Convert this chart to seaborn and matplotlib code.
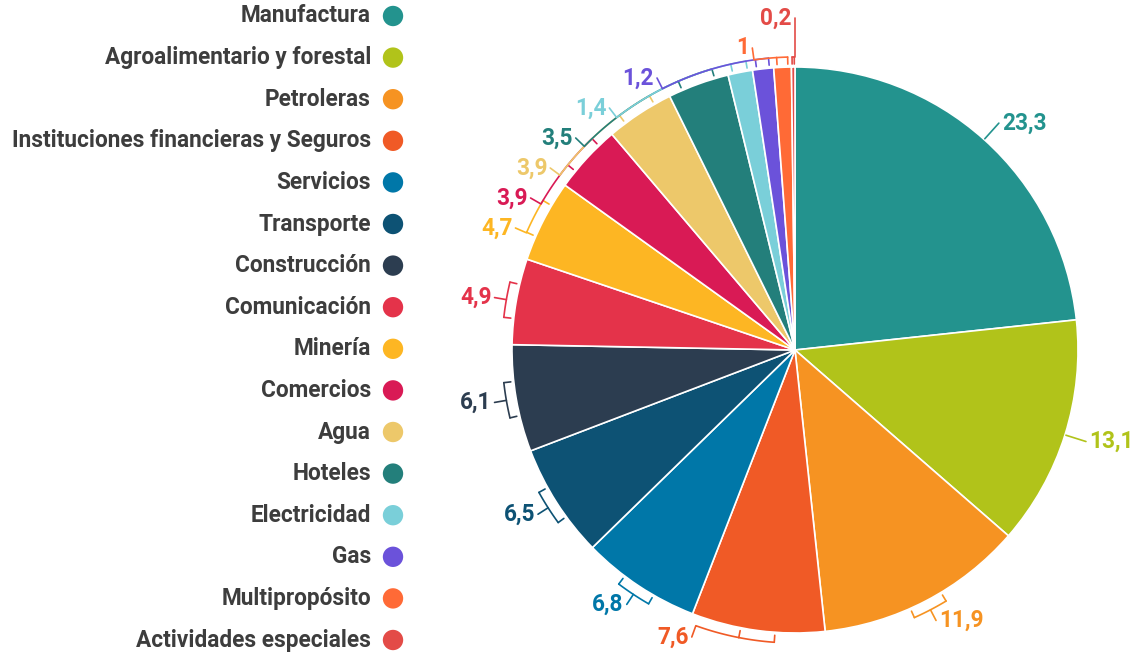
import numpy as np
import pandas as pd
import seaborn as sns
import matplotlib.pyplot as plt

SECTORES = ['Manufactura', 'Agroalimentario y forestal', 'Petroleras',
            'Instituciones financieras y Seguros', 'Servicios', 'Transporte',
            'Construcción', 'Comunicación', 'Minería', 'Comercios', 'Agua',
            'Hoteles', 'Electricidad', 'Gas', 'Multipropósito',
            'Actividades especiales']
PORCENTAJES = [23.3, 13.1, 11.9, 7.6, 6.8, 6.5, 6.1, 4.9, 4.7, 3.9, 3.9,
               3.5, 1.4, 1.2, 1.0, 0.2]
COLORES = ['#23938e', '#b1c31a', '#f69322', '#f05a26', '#0077a8', '#0d5274',
           '#2c3d50', '#e4334a', '#fdb623', '#d91a55', '#edc86a', '#237f7b',
           '#7acfd9', '#6b52da', '#ff6a36', '#e34b47']

sns.set_theme(style="white")
plt.rcParams['font.family'] = ['Roboto', 'DejaVu Sans']

W, H = 1138, 656
CX, CY, R = 795, 306, 283      # centro y radio de la torta (en px)
RB = R + 10                    # radio de los corchetes
RL = R + 22                    # radio de las etiquetas
GAP = 30                       # separación vertical mínima entre etiquetas
TXT = '#3d3d3d'
FS = 16.3

fig = plt.figure(figsize=(W / 100, H / 100), dpi=100)
ax = fig.add_axes([0, 0, 1, 1])

ax.pie(PORCENTAJES, colors=COLORES, startangle=90, counterclock=False,
       radius=R, center=(CX, CY),
       wedgeprops=dict(edgecolor='white', linewidth=1.2))

# ── leyenda a la izquierda ──
df_ley = pd.DataFrame({'x': 393.0,
                       'y': np.linspace(H - 16, H - 640, len(SECTORES)),
                       'sector': SECTORES})
sns.scatterplot(data=df_ley, x='x', y='y', hue='sector', palette=COLORES,
                s=215, linewidth=0, legend=False, ax=ax)
for _, fila in df_ley.iterrows():
    ax.text(fila['x'] - 22, fila['y'], fila['sector'], ha='right', va='center',
            fontsize=FS, fontweight='bold', color=TXT)

# ── ángulos de cada porción ──
acum = np.concatenate([[0], np.cumsum(PORCENTAJES)])
ini = 90 - 3.6 * acum[:-1]
fin = 90 - 3.6 * acum[1:]
medio = (ini + fin) / 2
span = ini - fin


def resolver(idx, y_nat, y_max, y_min):
    """agrupa etiquetas que se pisan y las centra en su media"""
    grupos = [[i] for i in idx]
    while True:
        pos = {}
        for g in grupos:
            c = np.mean([y_nat[i] for i in g])
            ys = c + GAP * ((len(g) - 1) / 2 - np.arange(len(g)))
            ys = ys - max(ys[0] - y_max, 0) + max(y_min - ys[-1], 0)
            for i, y in zip(g, ys):
                pos[i] = y
        fusion = False
        for k in range(len(grupos) - 1):
            if pos[grupos[k][-1]] - pos[grupos[k + 1][0]] < GAP:
                grupos[k] = grupos[k] + grupos.pop(k + 1)
                fusion = True
                break
        if not fusion:
            return pos


y_nat = CY + RL * np.sin(np.radians(medio))
lado_izq = np.cos(np.radians(medio)) < 0
pos_y = {}
for lado in (True, False):
    idx = [i for i in np.argsort(-y_nat) if lado_izq[i] == lado]
    pos_y.update(resolver(idx, y_nat, H - 18, H - 637))


def arco(r, a0, a1):
    t = np.radians(np.linspace(a0, a1, 40))
    return CX + r * np.cos(t), CY + r * np.sin(t)


for i, v in enumerate(PORCENTAJES):
    col = COLORES[i]
    y = pos_y[i]
    dy = y - CY
    sgn = -1 if lado_izq[i] else 1
    dx = sgn * np.sqrt(max(RL ** 2 - dy ** 2, 0))
    x = CX + dx
    ang = np.degrees(np.arctan2(dy, dx))
    ang = medio[i] + ((ang - medio[i] + 180) % 360 - 180)

    if span[i] > 45:
        # porciones grandes: solo una línea desde el borde
        t = np.radians(ang)
        ax.plot([CX + (R + 1) * np.cos(t), x], [CY + (R + 1) * np.sin(t), y],
                color=col, lw=1.2)
    else:
        w = min(0.3 * span[i], 3.5)
        lo, hi = medio[i] - w, medio[i] + w
        # corchete
        bx, by = arco(RB, lo, hi)
        ax.plot(bx, by, color=col, lw=1.2)
        for a in (lo, hi):
            t = np.radians(a)
            ax.plot([CX + (R + 3) * np.cos(t), CX + RB * np.cos(t)],
                    [CY + (R + 3) * np.sin(t), CY + RB * np.sin(t)],
                    color=col, lw=1.2)
        # conector
        ab = np.clip(ang, lo, hi)
        cx_, cy_ = arco(RB, ang, ab)
        ax.plot(np.concatenate([[x], cx_]), np.concatenate([[y], cy_]),
                color=col, lw=1.2)

    etiqueta = f'{v:g}'.replace('.', ',')
    ha = 'right' if lado_izq[i] or dx == 0 else 'left'
    ax.text(x + (-3 if ha == 'right' else 3), y, etiqueta, ha=ha, va='center',
            fontsize=FS, fontweight='bold', color=col)

ax.set_xlim(0, W)
ax.set_ylim(0, H)
ax.set_aspect('equal')
ax.axis('off')

fig.savefig('out.png', dpi=100, facecolor='white')
